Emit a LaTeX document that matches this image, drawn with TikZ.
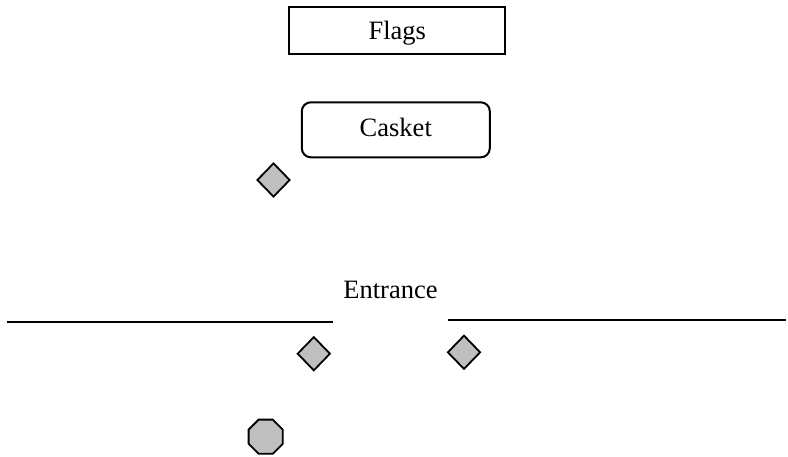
\documentclass[tikz,border=0pt]{standalone}
\usepackage{fontspec}
\setmainfont{Liberation Serif}
\usetikzlibrary{shapes.geometric}
\tikzset{
  boxbase/.style={draw=black,line width=2pt,fill=white,inner sep=0pt,font=\fontsize{26.5}{30}\selectfont},
  plainbox/.style={boxbase,rectangle,minimum width=216pt,minimum height=47pt,text height=17pt,text depth=0pt},
  roundbox/.style={boxbase,rectangle,rounded corners=9pt,minimum width=188pt,minimum height=55pt,text height=12.4pt,text depth=0pt},
  marker/.style={draw=black,line width=1.8pt,fill=black!25,diamond,aspect=0.95,inner sep=0pt,minimum width=33pt,minimum height=34pt},
  octmark/.style={draw=black,line width=1.8pt,fill=black!25,regular polygon,regular polygon sides=8,inner sep=0pt,minimum size=37pt},
  wall/.style={draw=black,line width=2.2pt},
  label/.style={inner sep=0pt,font=\fontsize{26.5}{30}\selectfont}
}
\begin{document}
\begin{tikzpicture}[x=1pt,y=-1pt]
\useasboundingbox (0,0) rectangle (788,456);
\node[plainbox] (flags) at (397.3,30.8) {Flags};
\node[roundbox] (casket) at (395.8,129.8) {Casket};
\node[marker] (d1) at (273.5,180) {};
\node[marker] (d2) at (313.8,353.7) {};
\node[marker] (d3) at (464,352.3) {};
\node[octmark] (oct) at (265.7,436.7) {};
\node[label] (entrance) at (390.5,290) {Entrance};
\coordinate (la) at (7,322);
\coordinate (lb) at (332.5,322);
\coordinate (ra) at (448,320.2);
\coordinate (rb) at (786,320.2);
\draw[wall] (la) -- (lb);
\draw[wall] (ra) -- (rb);
\end{tikzpicture}
\end{document}
